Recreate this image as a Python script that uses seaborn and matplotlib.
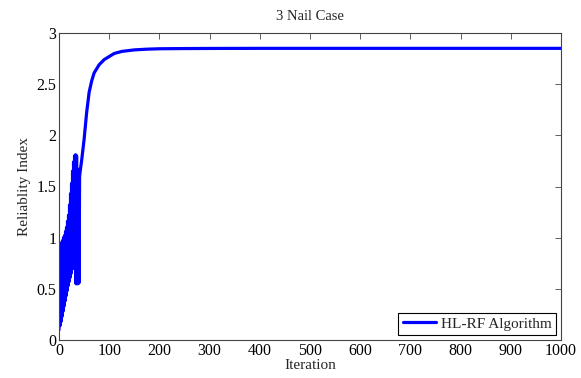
import numpy as np
import pandas as pd
import seaborn as sns
import matplotlib.pyplot as plt
from matplotlib.ticker import FuncFormatter

# iteration history (oscillating start, then smooth rise)
iteration = [0, 1, 2, 3, 4, 5, 6, 7, 8, 9, 10, 11, 12, 13, 14, 15, 16, 17, 18, 19,
             20, 21, 22, 23, 24, 25, 26, 27, 28, 29, 30, 31, 32, 33, 34, 35, 36, 37,
             38, 39, 40, 41, 43, 45, 50, 55, 60, 65, 70, 80, 90, 100, 110, 125,
             150, 175, 200, 250, 300, 400, 500, 600, 700, 800, 900, 1000]
beta = [0.10, 0.90, 0.14, 0.92, 0.18, 0.95, 0.23, 0.97, 0.28, 1.00, 0.33, 1.02,
        0.38, 1.06, 0.43, 1.10, 0.48, 1.16, 0.53, 1.22, 0.57, 1.32, 0.61, 1.43,
        0.65, 1.53, 0.70, 1.65, 0.70, 1.74, 0.72, 1.80, 0.72, 1.81, 0.55, 1.80,
        0.55, 1.67, 0.55, 1.62, 0.56, 1.60, 1.68, 1.75, 1.96, 2.22, 2.42, 2.53,
        2.61, 2.69, 2.74, 2.77, 2.80, 2.82, 2.835, 2.842, 2.846, 2.848, 2.849,
        2.85, 2.85, 2.85, 2.85, 2.85, 2.85, 2.85]

df = pd.DataFrame({"Iteration": iteration, "Reliablity Index": beta,
                   "series": "HL-RF Algorithm"})

sns.set_style("white")
plt.rcParams['font.family'] = ['Liberation Serif', 'DejaVu Serif']
plt.rcParams['font.size'] = 11

fig = plt.figure(figsize=(5.81, 3.78), dpi=100)
ax = fig.add_axes([59/581, 1 - 340/378, (561 - 59)/581, (340 - 33)/378])

sns.lineplot(data=df, x="Iteration", y="Reliablity Index", hue="series",
             palette=["#0000ff"], linewidth=2.3, estimator=None, sort=False, ax=ax)

ax.set_xlim(0, 1000)
ax.set_ylim(0, 3)
ax.set_xticks(np.arange(0, 1001, 100))
ax.set_yticks(np.arange(0, 3.01, 0.5))
ax.yaxis.set_major_formatter(FuncFormatter(lambda v, p: "%g" % v))
ax.tick_params(direction="in", top=True, right=True, length=4, width=0.6,
               colors="#444444", labelcolor="black", labelsize=11.5, pad=2)
for s in ax.spines.values():
    s.set_color("#444444")
    s.set_linewidth(0.8)

ax.set_xlabel("Iteration", fontsize=11, labelpad=0)
ax.set_ylabel("Reliablity Index", fontsize=11, labelpad=4)
ax.set_title("3 Nail Case", fontsize=10.5, pad=9)

leg = ax.legend(loc="lower right", fancybox=False, edgecolor="black",
                framealpha=1, fontsize=11, handlelength=2.2, borderpad=0.3,
                handletextpad=0.3, borderaxespad=0.3)
leg.get_frame().set_linewidth(0.8)
leg.get_lines()[0].set_linewidth(2.3)

fig.savefig("out.png", dpi=100)
